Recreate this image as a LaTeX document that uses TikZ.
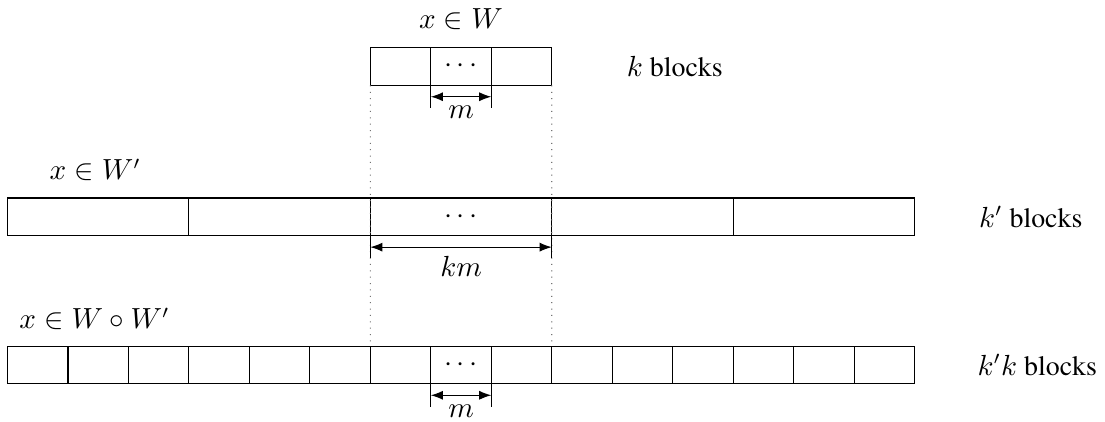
\documentclass[tikz,border=0pt]{standalone}
\usepackage[T1]{fontenc}
\usepackage{times}
\usepackage{tikz}
\usetikzlibrary{positioning,arrows.meta,calc}

\begin{document}
\begin{tikzpicture}[font=\fontsize{10.5}{12.6}\selectfont,
  cell/.style={draw,minimum width=0.8cm,minimum height=0.5cm,inner sep=0pt,outer sep=0pt},
  wide/.style={cell,minimum width=2.4cm},
  dim/.style={{Latex[length=1.6mm]}-{Latex[length=1.6mm]}},
  guide/.style={dotted,draw=black!55}]
  \useasboundingbox (0,0) rectangle (14.62,5.58);
  % x in W: three blocks
  \node[cell] (t1) at (5.3,4.70) {};
  \node[cell,right=0cm of t1] (t2) {$\cdots$};
  \node[cell,right=0cm of t2] (t3) {};
  % x in W': five wide blocks
  \node[wide] (m1) at (1.3,2.71) {};
  \node[wide,right=0cm of m1] (m2) {};
  \node[wide,right=0cm of m2] (m3) {$\cdots$};
  \node[wide,right=0cm of m3] (m4) {};
  \node[wide,right=0cm of m4] (m5) {};
  % x in W o W': fifteen blocks
  \node[cell] (b1) at (0.5,0.75) {};
  \foreach \i [count=\j from 2] in {1,...,14}
    \node[cell,right=0cm of b\i] (b\j) {\ifnum\j=8 $\cdots$\fi};
  % dotted guides
  \draw[guide] (t1.south west) -- (b7.north west);
  \draw[guide] (t3.south east) -- (b9.north east);
  % widths
  \foreach \r/\a/\t in {t/t2/m,m/m3/km,b/b8/m} {
    \draw (\a.south west) -- ++(0,-0.3);
    \draw (\a.south east) -- ++(0,-0.3);
    \coordinate (\r l) at ($(\a.south west)+(0,-0.15)$);
    \coordinate (\r r) at ($(\a.south east)+(0,-0.15)$);
    \draw[dim] (\r l) -- (\r r) node[midway,below=0cm] (\r lab) {$\t$};
  }
  % labels
  \node[above=0.11cm of t2] (lw) {$x\in W$};
  \node (lwp) at (1.26,3.33) {$x\in W'$};
  \node (lwwp) at (1.25,1.36) {$x\in W\circ W'$};
  \node[right=0.87cm of t3] (kb) {$k$ blocks};
  \node[right=0.73cm of m5] (kpb) {$k'$ blocks};
  \node[right=0.71cm of b15] (kpkb) {$k'k$ blocks};
\end{tikzpicture}
\end{document}
